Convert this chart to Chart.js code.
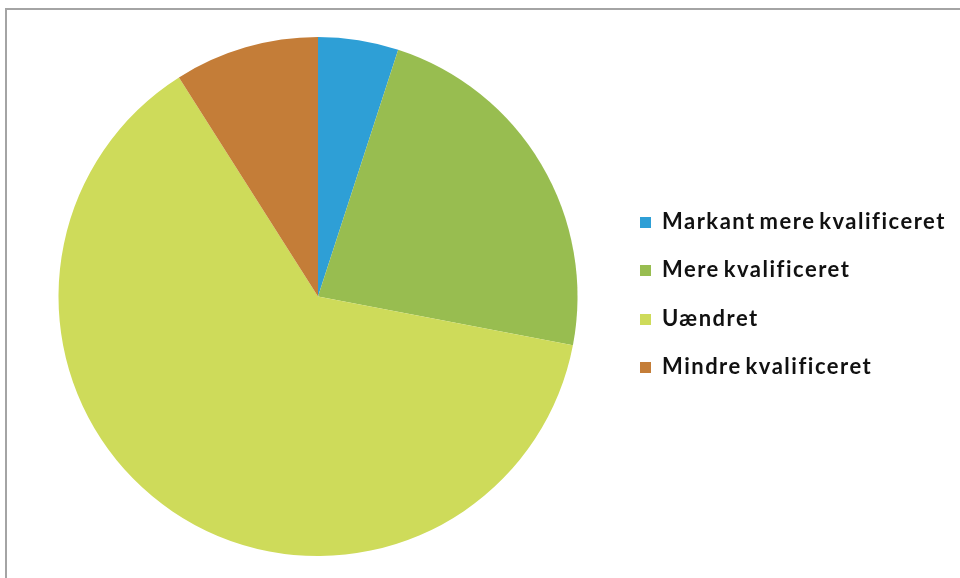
<!DOCTYPE html>
<html>
<head>
<meta charset="utf-8">
<script src="https://cdn.jsdelivr.net/npm/chart.js@4"></script>
<style>
    html, body { margin: 0; padding: 0; background: #fff; }
    #wrap { position: relative; width: 960px; height: 578px; overflow: hidden; }
    #frame { position: absolute; left: 5px; top: 8px; width: 970px; height: 600px; border: 2px solid #a4a4a4; box-sizing: border-box; }
    #pieChart { position: absolute; left: 0; top: 0; }
    #legend { position: absolute; left: 640px; top: 210px; font-family: Lato, "Open Sans", sans-serif; font-weight: bold; font-size: 22px; line-height: 22px; letter-spacing: 1.5px; word-spacing: -3px; color: #111; white-space: nowrap; }
    .item { height: 48.3px; display: flex; align-items: flex-start; }
    .box { width: 11px; height: 11px; margin-top: 7px; margin-right: 11px; flex: none; }
</style>
</head>
<body>
<div id="wrap">
    <div id="frame"></div>
    <canvas id="pieChart" width="960" height="578"></canvas>
    <div id="legend"></div>
</div>
<script>
// 카테고리와 값 (그림에서 읽은 비율, %)
const categories = ["Markant mere kvalificeret", "Mere kvalificeret", "Uændret", "Mindre kvalificeret"];
const shares = [5, 23, 63, 9];
const sliceColors = ["#2e9fd6", "#98bd50", "#cedb5a", "#c47d38"];

document.addEventListener("DOMContentLoaded", function () {
    const ctx = document.getElementById("pieChart").getContext("2d");

    new Chart(ctx, {
        type: "pie",
        data: {
            labels: categories,
            datasets: [{
                data: shares,
                backgroundColor: sliceColors,
                borderWidth: 0
            }]
        },
        options: {
            responsive: false,
            animation: false,
            layout: {
                padding: { left: 58, right: 382, top: 37, bottom: 22 }
            },
            plugins: {
                legend: { display: false },
                tooltip: { enabled: false }
            }
        }
    });

    // 범례 (HTML)
    const legend = document.getElementById("legend");
    categories.forEach((name, i) => {
        const row = document.createElement("div");
        row.className = "item";
        row.innerHTML = `<span class="box" style="background:${sliceColors[i]}"></span><span>${name}</span>`;
        legend.appendChild(row);
    });
});
</script>
</body>
</html>
